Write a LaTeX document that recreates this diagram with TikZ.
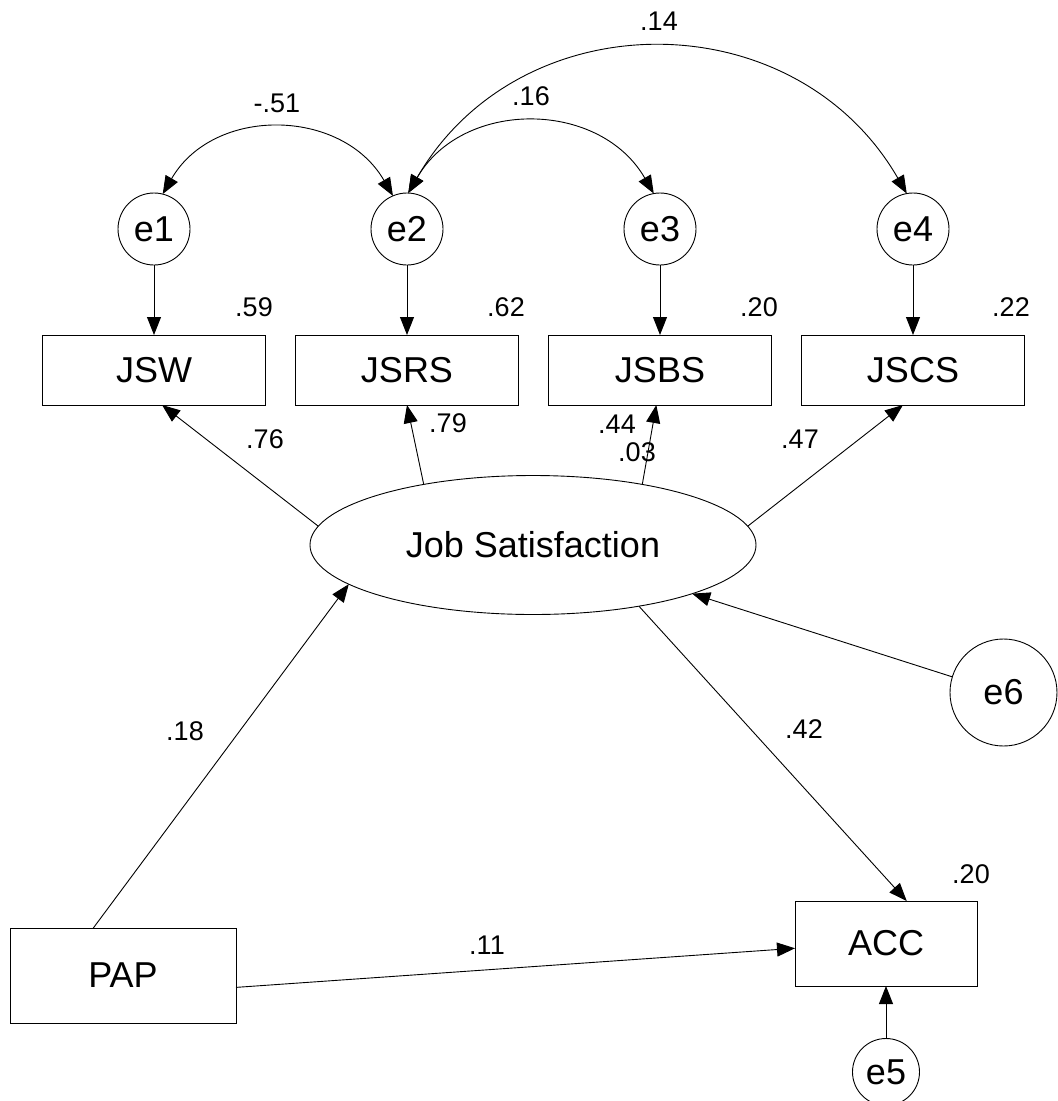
\documentclass[tikz,border=0pt]{standalone}
\usepackage{fontspec}
\setmainfont{Liberation Sans}
\usetikzlibrary{arrows.meta,shapes.geometric}

\begin{document}
\begin{tikzpicture}[x=1pt,y=1pt,
  every node/.style={outer sep=0pt, inner sep=0pt},
  obs/.style={draw, line width=1pt, minimum width=223pt, minimum height=70pt,
    font=\fontsize{36}{40}\selectfont},
  latent/.style={draw, ellipse, line width=0.9pt, minimum width=446pt, minimum height=139pt,
    font=\fontsize{36}{40}\selectfont},
  err/.style={draw, circle, line width=0.9pt, minimum size=72pt,
    font=\fontsize{36}{40}\selectfont},
  coef/.style={font=\fontsize{27}{30}\selectfont},
  reg/.style={line width=0.9pt, -{Triangle[length=18pt,width=14pt]}},
  cov/.style={line width=0.9pt,
    {Triangle[length=18pt,width=14pt]}-{Triangle[length=18pt,width=14pt]}},
]
\useasboundingbox (0,0) rectangle (1058,-1101);
\clip (0,0) rectangle (1058,-1101);

% error terms of the indicators
\node[err] (e1) at (154,-229) {e1};
\node[err] (e2) at (407,-229) {e2};
\node[err] (e3) at (660,-229) {e3};
\node[err] (e4) at (913,-229) {e4};

% observed indicators
\node[obs] (JSW)  at (154,-370) {JSW};
\node[obs] (JSRS) at (407,-370) {JSRS};
\node[obs] (JSBS) at (660,-370) {JSBS};
\node[obs] (JSCS) at (913,-370) {JSCS};

% latent factor and structural part
\node[latent] (JS) at (533,-545) {Job Satisfaction};
\node[obs, minimum width=226pt, minimum height=95pt] (PAP) at (123,-975.5) {PAP};
\node[obs, minimum width=182pt, minimum height=85pt] (ACC) at (886,-943.5) {ACC};
\node[err, minimum size=107pt] (e6) at (1003.5,-692.5) {e6};
\node[err, minimum size=67pt] (e5) at (886,-1072) {e5};

% error -> indicator paths
\draw[reg] (e1) -- (JSW);
\draw[reg] (e2) -- (JSRS);
\draw[reg] (e3) -- (JSBS);
\draw[reg] (e4) -- (JSCS);

% error covariances
\draw[cov] (e1.76) to[out=60,in=120,looseness=1.13] (e2.113);
\draw[cov] (e2.88) to[out=60,in=120,looseness=1.13] (e3.100);
\draw[cov] (e2.88) to[out=60,in=120,looseness=1.15] (e4.100);

% factor loadings
\draw[reg] (JS.175) -- (JSW.-77);
\draw[reg] (JS.151) -- (JSRS.south);
\draw[reg] (JS.29)  -- (JSBS.-96);
\draw[reg] (JS.5)   -- (JSCS.-106);

% structural paths
\draw[reg] (PAP.122) -- (JS.192);
\draw[reg] (JS.-30)  -- (ACC.64);
\draw[reg] (PAP.-6.3) -- (ACC.183.5);
\draw[reg] (e6.163)  -- (JS.-17);
\draw[reg] (e5) -- (ACC);

% estimates
\node[coef] (c12) at (277,-103) {-.51};
\node[coef] (c23) at (531,-96)  {.16};
\node[coef] (c24) at (659,-21)  {.14};
\node[coef] (r1) at (254,-307) {.59};
\node[coef] (r2) at (506,-307) {.62};
\node[coef] (r3) at (759,-307) {.20};
\node[coef] (r4) at (1011,-307) {.22};
\node[coef] (l1) at (265,-439) {.76};
\node[coef] (l2) at (448,-423) {.79};
\node[coef] (l3) at (617,-424) {.44};
\node[coef] (i3) at (637,-452) {.03};
\node[coef] (l4) at (800,-439) {.47};
\node[coef] (b1) at (185,-731) {.18};
\node[coef] (b2) at (804,-729) {.42};
\node[coef] (b3) at (487,-945) {.11};
\node[coef] (ra) at (971,-874.5) {.20};
\end{tikzpicture}
\end{document}
